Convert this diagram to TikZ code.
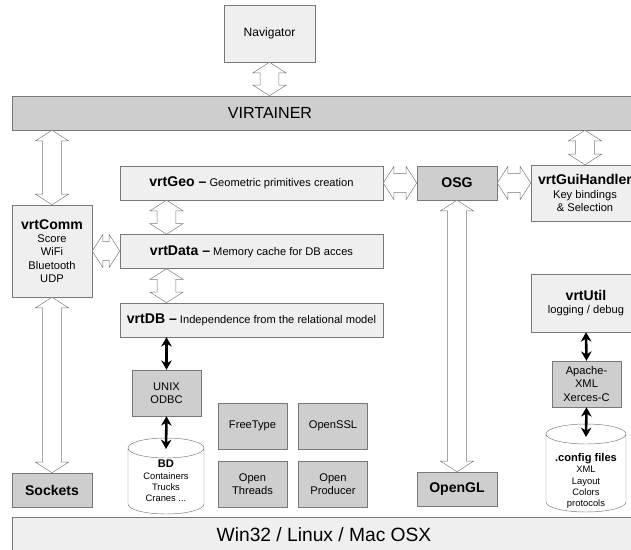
\documentclass[tikz,border=0pt]{standalone}
\usepackage{fontspec}
\setmainfont{Liberation Sans}
\usetikzlibrary{shapes, arrows.meta, positioning, calc, backgrounds}
\definecolor{virtline}{RGB}{120,120,120}
\definecolor{virtlight}{RGB}{239,239,239}
\definecolor{virtdark}{RGB}{206,206,206}
\newcommand{\vrtname}[1]{{\fontsize{12}{14}\selectfont\bfseries #1}}

\begin{document}
\begin{tikzpicture}[
            x=0.03cm, y=-0.03cm,
            font=\fontsize{9.5}{11.3}\selectfont,
            box/.style={rectangle, draw=virtline, fill=virtlight, align=center, inner sep=1pt},
            dark/.style={box, fill=virtdark},
            layer/.style={box, minimum width=7.89cm, minimum height=1.02cm},
            lib/.style={dark, minimum width=2.07cm, minimum height=1.38cm},
            db/.style={rectangle, inner sep=0pt, align=center, font=\fontsize{8}{9.6}\selectfont},
            dbline/.style={draw=virtline},
            arr/.style={{Stealth[length=8pt,width=9pt]}-{Stealth[length=8pt,width=9pt]}, line width=2.2pt},
            fatv/.style={draw=virtline, fill=white, to path={let \p1=(\tikztostart), \p2=(\tikztotarget) in
                (\x1,\y1) -- ({\x1+0.5cm},{\y1-0.32cm}) -- ({\x1+0.28cm},{\y1-0.32cm}) -- ({\x1+0.28cm},{\y2+0.32cm})
                -- ({\x1+0.5cm},{\y2+0.32cm}) -- (\x1,\y2) -- ({\x1-0.5cm},{\y2+0.32cm}) -- ({\x1-0.28cm},{\y2+0.32cm})
                -- ({\x1-0.28cm},{\y1-0.32cm}) -- ({\x1-0.5cm},{\y1-0.32cm}) -- cycle}},
            fath/.style={draw=virtline, fill=white, to path={let \p1=(\tikztostart), \p2=(\tikztotarget) in
                (\x1,\y1) -- ({\x1+0.32cm},{\y1+0.5cm}) -- ({\x1+0.32cm},{\y1+0.28cm}) -- ({\x2-0.32cm},{\y1+0.28cm})
                -- ({\x2-0.32cm},{\y1+0.5cm}) -- (\x2,\y1) -- ({\x2-0.32cm},{\y1-0.5cm}) -- ({\x2-0.32cm},{\y1-0.28cm})
                -- ({\x1+0.32cm},{\y1-0.28cm}) -- ({\x1+0.32cm},{\y1-0.5cm}) -- cycle}}
        ]
            \useasboundingbox (0,0) rectangle (631,550);
            \clip (0,0) rectangle (631,550);
            % top
            \node[box, minimum width=2.73cm, minimum height=1.71cm, font=\fontsize{10.3}{12}\selectfont] (nav) at (269.5,33.5) {Navigator};
            \node[dark, minimum width=19.14cm, minimum height=1.02cm] (virt) at (331,113) {};
            \node[font=\fontsize{13.7}{16}\selectfont] (virtlabel) at (270,113) {VIRTAINER};
            % left column
            \node[box, minimum width=2.4cm, minimum height=2.76cm] (vrtcomm) at (52,251) {\vrtname{vrtComm}\\Score\\WiFi\\Bluetooth\\UDP};
            \node[dark, minimum width=2.4cm, minimum height=1.02cm] (sockets) at (52,490) {\vrtname{Sockets}};
            % data layers
            \node[layer] (vrtgeo) at (251.5,183) {\vrtname{vrtGeo --} Geometric primitives creation};
            \node[layer, below=1.02cm of vrtgeo] (vrtdata) {\vrtname{vrtData --} Memory cache for DB acces};
            \node[layer, below=1.02cm of vrtdata] (vrtdb) {\vrtname{vrtDB --} Independence from the relational model};
            \node[lib] (unix) at (166.5,393) {UNIX\\ODBC};
            \node[db] (bd) at (166,481) {{\fontsize{9.5}{11}\selectfont\bfseries BD}\\Containers\\Trucks\\Cranes ...};
            \node[lib] (freetype) at (252.5,426) {FreeType};
            \node[lib] (openssl) at (333,426) {OpenSSL};
            \node[lib] (threads) at (252.5,484) {Open\\Threads};
            \node[lib] (producer) at (333,484) {Open\\Producer};
            % graphics
            \node[dark, minimum width=2.4cm, minimum height=1.02cm] (osg) at (457,183) {\vrtname{OSG}};
            \node[dark, minimum width=2.4cm, minimum height=1.02cm] (opengl) at (457,489) {\vrtname{OpenGL}};
            \node[box, minimum width=3.24cm, minimum height=1.68cm] (gui) at (585,193) {\vrtname{vrtGuiHandler}\\Key bindings\\\& Selection};
            % utilities
            \node[box, minimum width=3.3cm, minimum height=1.74cm] (vrtutil) at (586,303) {\vrtname{vrtUtil}\\logging / debug};
            \node[lib] (apache) at (586.5,384) {Apache-\\XML\\Xerces-C};
            \node[db] (cfg) at (586,481) {{\fontsize{9.5}{11}\selectfont\bfseries .config files}\\XML\\Layout\\Colors\\protocols};
            % system
            \node[box, minimum width=18.72cm, minimum height=1.05cm, font=\fontsize{16.4}{19}\selectfont] (os) at (324,534.5) {Win32 / Linux / Mac OSX};
            % cylinders round the data stores
            \begin{scope}[on background layer]
                \draw[dbline] ($(bd.center)+(-38,-33)$) -- ($(bd.center)+(-38,23)$) arc[start angle=180, end angle=360, x radius=1.14cm, y radius=0.3cm]
                    -- ($(bd.center)+(38,-33)$) arc[start angle=0, end angle=360, x radius=1.14cm, y radius=0.3cm];
                \draw[dbline] ($(cfg.center)+(-40,-47)$) -- ($(cfg.center)+(-40,21)$) arc[start angle=180, end angle=360, x radius=1.2cm, y radius=0.3cm]
                    -- ($(cfg.center)+(40,-47)$) arc[start angle=0, end angle=360, x radius=1.2cm, y radius=0.3cm];
            \end{scope}
            \coordinate (bdtop) at ($(bd.center)+(0,-32)$);
            \coordinate (cfgtop) at ($(cfg.center)+(0,-44)$);
            % hollow arrows
            \draw[fatv] (nav.south) to (nav.south |- virt.north);
            \draw[fatv] (vrtcomm.north |- virt.south) to (vrtcomm.north);
            \draw[fatv] (vrtcomm.south) to (sockets.north);
            \draw[fatv] (gui.north |- virt.south) to (gui.north);
            \draw[fath] (vrtcomm.east) to (vrtdata.west);
            \draw[fatv] ([xshift=-2.55cm]vrtgeo.south) to ([xshift=-2.55cm]vrtdata.north);
            \draw[fatv] ([xshift=-2.55cm]vrtdata.south) to ([xshift=-2.55cm]vrtdb.north);
            \draw[fath] (vrtgeo.east) to (osg.west);
            \draw[fath] (osg.east) to (osg.east -| gui.west);
            \draw[fatv] (osg.south) to (opengl.north);
            % black arrows
            \draw[arr] (unix.north |- vrtdb.south) -- (unix.north);
            \draw[arr] (unix.south) -- (bdtop);
            \draw[arr] (vrtutil.south) -- (apache.north);
            \draw[arr] (apache.south) -- (cfgtop);
        \end{tikzpicture}
\end{document}
